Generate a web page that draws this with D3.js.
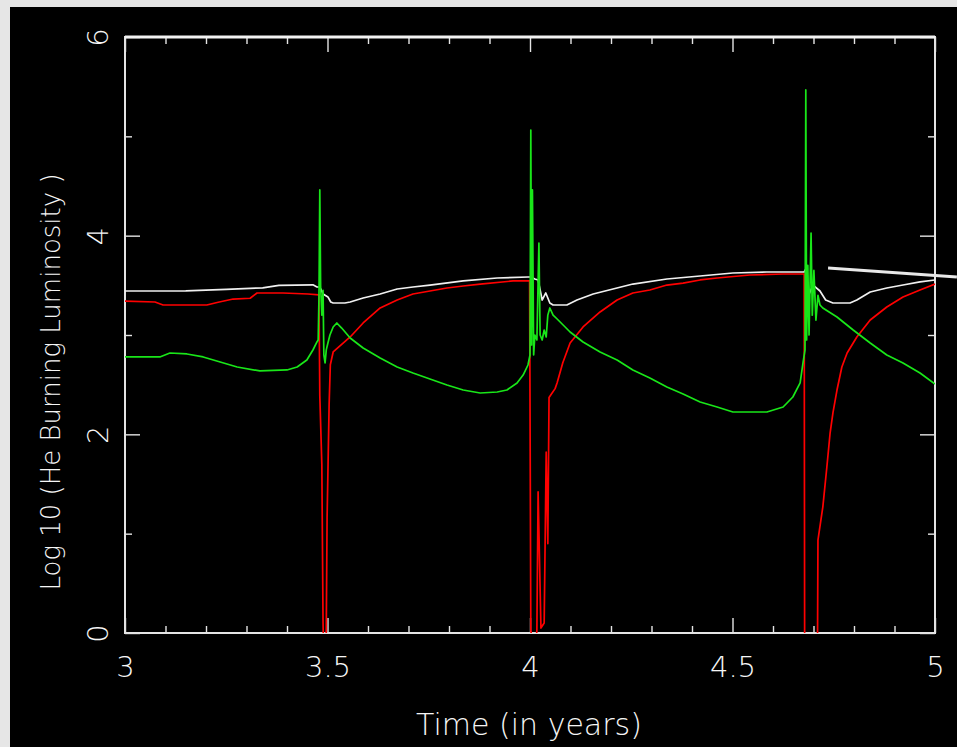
<!DOCTYPE html>
<html>
<head>
<meta charset="utf-8">
<script src="https://cdn.jsdelivr.net/npm/d3@7"></script>
<style>
  html, body { margin: 0; padding: 0; background: #e6e6e6; }
  svg { display: block; }
</style>
</head>
<body>
<svg id="chart" width="957" height="747"></svg>
<script>
// Axis ticks
const xMajorTicks = [3, 3.5, 4, 4.5, 5];
const xTickLabels = ["3", "3.5", "4", "4.5", "5"];
const xMinorTicks = [3.1, 3.2, 3.3, 3.4, 3.6, 3.7, 3.8, 3.9, 4.1, 4.2, 4.3, 4.4, 4.6, 4.7, 4.8, 4.9];
const yMajorTicks = [0, 2, 4, 6];
const yTickLabels = ["0", "2", "4", "6"];
const yMinorTicks = [1, 3, 5];

// Series: [time (years), log10 L_He]
const whiteSeries = [
  [3.000,3.443],[3.150,3.445],[3.250,3.460],[3.340,3.475],[3.380,3.500],[3.464,3.505],
  [3.474,3.483],[3.481,3.483],[3.489,3.413],[3.501,3.383],[3.508,3.332],[3.514,3.322],
  [3.543,3.322],[3.556,3.332],[3.588,3.372],[3.630,3.413],[3.672,3.463],[3.711,3.483],
  [3.753,3.503],[3.835,3.544],[3.919,3.574],[3.995,3.584],[4.002,3.584],[4.012,3.564],
  [4.020,3.554],[4.030,3.352],[4.039,3.423],[4.049,3.322],[4.057,3.302],[4.091,3.302],
  [4.116,3.352],[4.156,3.413],[4.254,3.513],[4.338,3.564],[4.420,3.594],[4.501,3.624],
  [4.585,3.634],[4.667,3.634],[4.677,3.634],[4.684,3.685],[4.686,3.383],[4.699,3.503],
  [4.716,3.443],[4.730,3.352],[4.748,3.322],[4.790,3.322],[4.807,3.352],[4.840,3.433],
  [4.881,3.473],[4.921,3.503],[4.963,3.534],[5.000,3.554]
];

const redSeries = [
  [3.000,3.342],[3.074,3.332],[3.094,3.302],[3.202,3.302],[3.230,3.330],[3.267,3.362],
  [3.309,3.370],[3.326,3.423],[3.390,3.423],[3.452,3.413],[3.479,3.403],[3.481,2.390],
  [3.486,1.700],[3.489,0.100],[3.492,-0.500],[3.496,-0.500],[3.499,1.160],[3.504,2.300],
  [3.507,2.700],[3.514,2.829],[3.556,2.980],[3.588,3.121],[3.630,3.272],[3.672,3.352],
  [3.711,3.413],[3.753,3.443],[3.795,3.473],[3.835,3.493],[3.877,3.513],[3.958,3.544],
  [3.999,3.544],[4.002,0.030],[4.012,-0.300],[4.017,0.030],[4.020,1.420],[4.027,0.050],
  [4.035,0.100],[4.040,1.820],[4.044,0.900],[4.047,2.370],[4.052,2.400],[4.062,2.460],
  [4.067,2.520],[4.081,2.720],[4.099,2.920],[4.131,3.081],[4.173,3.232],[4.215,3.352],
  [4.254,3.423],[4.296,3.453],[4.338,3.503],[4.378,3.523],[4.420,3.554],[4.462,3.574],
  [4.543,3.604],[4.625,3.614],[4.677,3.614],[4.678,0.300],[4.679,-3.000],[4.708,-3.000],
  [4.710,0.000],[4.711,0.936],[4.723,1.268],[4.733,1.671],[4.741,2.013],[4.748,2.215],
  [4.758,2.446],[4.770,2.678],[4.783,2.819],[4.807,2.980],[4.840,3.151],[4.881,3.282],
  [4.921,3.383],[4.963,3.453],[5.000,3.513]
];

const greenSeries = [
  [3.000,2.779],[3.086,2.779],[3.111,2.819],[3.153,2.809],[3.193,2.779],[3.235,2.728],
  [3.277,2.678],[3.333,2.638],[3.400,2.648],[3.425,2.678],[3.449,2.748],[3.464,2.849],
  [3.474,2.930],[3.477,2.950],[3.479,3.400],[3.481,4.460],[3.483,3.500],[3.486,3.200],
  [3.489,3.450],[3.491,2.800],[3.494,2.720],[3.497,2.850],[3.501,2.920],[3.506,3.000],
  [3.514,3.081],[3.523,3.121],[3.535,3.070],[3.556,2.970],[3.588,2.869],[3.630,2.769],
  [3.672,2.678],[3.711,2.617],[3.753,2.557],[3.795,2.497],[3.835,2.446],[3.877,2.416],
  [3.919,2.426],[3.943,2.446],[3.968,2.517],[3.983,2.597],[3.995,2.698],[4.000,2.799],
  [4.002,5.064],[4.004,2.900],[4.006,4.460],[4.009,2.800],[4.012,3.000],[4.017,2.950],
  [4.022,3.926],[4.025,3.000],[4.030,2.950],[4.035,3.050],[4.040,2.980],[4.044,3.200],
  [4.049,3.272],[4.057,3.200],[4.067,3.161],[4.099,3.030],[4.131,2.930],[4.173,2.829],
  [4.215,2.748],[4.254,2.648],[4.296,2.567],[4.338,2.477],[4.378,2.406],[4.420,2.326],
  [4.462,2.275],[4.501,2.225],[4.585,2.225],[4.625,2.275],[4.649,2.376],[4.667,2.517],
  [4.674,2.718],[4.679,2.849],[4.681,5.467],[4.683,2.950],[4.686,3.700],[4.689,3.000],
  [4.694,4.027],[4.697,3.200],[4.701,3.650],[4.706,3.150],[4.711,3.400],[4.716,3.302],
  [4.723,3.272],[4.758,3.181],[4.798,3.050],[4.840,2.919],[4.881,2.799],[4.921,2.718],
  [4.963,2.617],[5.000,2.507]
];

// Pointer line running off to the right edge
const pointerLine = [[4.736, 3.675], [5.054, 3.584]];

const W = 957, H = 747;
const plot = { left: 125, right: 935, top: 37, bottom: 633 };
const ink = "#e4e4e4";
const textInk = "#f6f6f6";
const font = "'DejaVu Sans', 'Liberation Sans', sans-serif";
const fontWeight = 200;

const svg = d3.select("#chart");

svg.append("rect").attr("x", 0).attr("y", 0).attr("width", W).attr("height", H).attr("fill", "#e6e6e6");
svg.append("rect").attr("x", 10).attr("y", 7).attr("width", W - 10).attr("height", H - 7).attr("fill", "#000");

const x = d3.scaleLinear().domain([3, 5]).range([plot.left, plot.right]);
const y = d3.scaleLinear().domain([0, 6]).range([plot.bottom, plot.top]);

svg.append("defs").append("clipPath").attr("id", "plotClip")
  .append("rect")
  .attr("x", plot.left).attr("y", plot.top)
  .attr("width", plot.right - plot.left).attr("height", plot.bottom - plot.top);

// Inward-pointing ticks on all four sides
function styleAxis(g) {
  g.select(".domain").remove();
  g.selectAll(".tick line").attr("stroke", ink).attr("stroke-width", 1.4);
}
const minorLen = 7, majorLen = 15;

svg.append("g").attr("transform", `translate(0,${plot.bottom})`)
  .call(d3.axisBottom(x).tickValues(xMinorTicks).tickSize(-minorLen).tickFormat(""))
  .call(styleAxis);
svg.append("g").attr("transform", `translate(0,${plot.top})`)
  .call(d3.axisTop(x).tickValues(xMinorTicks).tickSize(-minorLen).tickFormat(""))
  .call(styleAxis);
svg.append("g").attr("transform", `translate(0,${plot.top})`)
  .call(d3.axisTop(x).tickValues(xMajorTicks).tickSize(-majorLen).tickFormat(""))
  .call(styleAxis);

const xAxis = svg.append("g").attr("transform", `translate(0,${plot.bottom})`)
  .call(d3.axisBottom(x).tickValues(xMajorTicks).tickSize(-majorLen)
    .tickFormat((d, i) => xTickLabels[i]))
  .call(styleAxis);
xAxis.selectAll(".tick text")
  .attr("fill", textInk).attr("font-family", font).attr("font-size", 29).attr("font-weight", fontWeight)
  .attr("y", 44).attr("dy", 0);

svg.append("g").attr("transform", `translate(${plot.left},0)`)
  .call(d3.axisLeft(y).tickValues(yMinorTicks).tickSize(-minorLen).tickFormat(""))
  .call(styleAxis);
svg.append("g").attr("transform", `translate(${plot.right},0)`)
  .call(d3.axisRight(y).tickValues(yMinorTicks).tickSize(-minorLen).tickFormat(""))
  .call(styleAxis);
svg.append("g").attr("transform", `translate(${plot.right},0)`)
  .call(d3.axisRight(y).tickValues(yMajorTicks).tickSize(-majorLen).tickFormat(""))
  .call(styleAxis);

const yAxis = svg.append("g").attr("transform", `translate(${plot.left},0)`)
  .call(d3.axisLeft(y).tickValues(yMajorTicks).tickSize(-majorLen)
    .tickFormat((d, i) => yTickLabels[i]))
  .call(styleAxis);
yAxis.selectAll(".tick text")
  .attr("fill", textInk).attr("font-family", font).attr("font-size", 29).attr("font-weight", fontWeight)
  .attr("x", null).attr("dy", null)
  .attr("text-anchor", "middle")
  .attr("transform", "translate(-17,0) rotate(-90)");

// Frame
svg.append("rect")
  .attr("x", plot.left).attr("y", plot.top)
  .attr("width", plot.right - plot.left).attr("height", plot.bottom - plot.top)
  .attr("fill", "none").attr("stroke", ink).attr("stroke-width", 2);
svg.append("line")
  .attr("x1", plot.left).attr("x2", plot.right)
  .attr("y1", plot.top).attr("y2", plot.top)
  .attr("stroke", "#f2f2f2").attr("stroke-width", 3);

// Curves
const line = d3.line().x(d => x(d[0])).y(d => y(d[1]));
const curves = svg.append("g").attr("clip-path", "url(#plotClip)");
[
  { data: redSeries, color: "#ff0000" },
  { data: whiteSeries, color: "#f0f0f0" },
  { data: greenSeries, color: "#19e619" }
].forEach(s => {
  curves.append("path")
    .datum(s.data)
    .attr("d", line)
    .attr("fill", "none")
    .attr("stroke", s.color)
    .attr("stroke-width", 1.7)
    .attr("stroke-linejoin", "round");
});

svg.append("path")
  .datum(pointerLine)
  .attr("d", line)
  .attr("fill", "none")
  .attr("stroke", "#e8e8e8")
  .attr("stroke-width", 3);

// Axis titles
svg.append("text")
  .attr("x", 529).attr("y", 735)
  .attr("text-anchor", "middle")
  .attr("fill", textInk).attr("font-family", font).attr("font-size", 30).attr("font-weight", fontWeight)
  .text("Time (in years)");

svg.append("text")
  .attr("transform", "translate(60,382) rotate(-90)")
  .attr("text-anchor", "middle")
  .attr("fill", textInk).attr("font-family", font).attr("font-size", 26).attr("font-weight", fontWeight)
  .text("Log 10 (He Burning Luminosity )");
</script>
</body>
</html>
